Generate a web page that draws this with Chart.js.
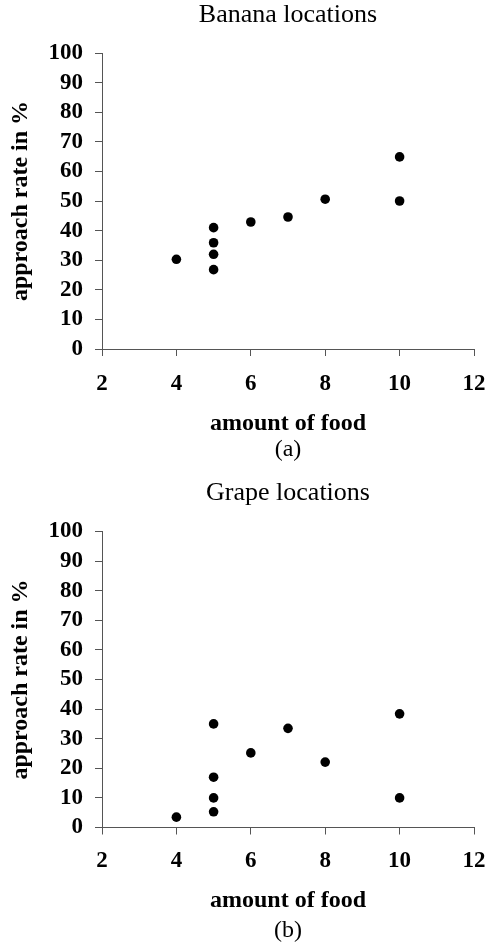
<!DOCTYPE html>
<html>
<head>
<meta charset="utf-8">
<script src="https://cdn.jsdelivr.net/npm/chart.js@4/dist/chart.umd.min.js"></script>
<style>
  html, body { margin: 0; padding: 0; background: #ffffff; }
  .box { position: relative; width: 486px; }
  #b1 { height: 470px; }
  #b2 { height: 479px; }
</style>
</head>
<body>
<div class="box" id="b1"><canvas id="c1"></canvas></div>
<div class="box" id="b2"><canvas id="c2"></canvas></div>
<script>
// ---- data ----
const bananaFood = [4, 5, 5, 5, 5, 6, 7, 8, 10, 10];
const bananaRate = [30.3, 41.0, 35.9, 32.0, 26.8, 42.9, 44.6, 50.6, 64.9, 50.0];
const grapeFood  = [4, 5, 5, 5, 5, 6, 7, 8, 10, 10];
const grapeRate  = [3.5, 35.0, 17.0, 10.0, 5.3, 25.2, 33.5, 22.1, 38.4, 10.0];
const xTicks = [2, 4, 6, 8, 10, 12];
const yTicks = [0, 10, 20, 30, 40, 50, 60, 70, 80, 90, 100];
const titles = ['Banana locations', 'Grape locations'];
const captions = ['(a)', '(b)'];
const xTitle = 'amount of food';
const yTitle = 'approach rate in %';

const SERIF = "'Liberation Serif', 'Times New Roman', serif";

function pts(xs, ys) { return xs.map((x, i) => ({ x: x, y: ys[i] })); }

function makeChart(id, xs, ys, title, caption, L) {
  return new Chart(document.getElementById(id), {
    type: 'scatter',
    data: { datasets: [{
      data: pts(xs, ys),
      backgroundColor: '#000000',
      borderColor: '#000000',
      pointRadius: 4.8,
      pointHoverRadius: 4.8,
      borderWidth: 0
    }]},
    options: {
      responsive: true,
      maintainAspectRatio: false,
      animation: false,
      events: [],
      layout: { padding: { left: 0, right: 0, top: 0, bottom: L.padBottom } },
      plugins: {
        legend: { display: false },
        tooltip: { enabled: false },
        title: {
          display: true, text: title, fullSize: false, color: '#000000',
          font: { family: SERIF, size: 26, weight: 'normal', lineHeight: 1 },
          padding: { top: L.titleTop, bottom: L.titleBottom }
        },
        subtitle: {
          display: true, text: caption, position: 'bottom', fullSize: false, color: '#000000',
          font: { family: SERIF, size: 24, weight: 'normal', lineHeight: 1 },
          padding: { top: L.capTop, bottom: 0 }
        }
      },
      scales: {
        x: {
          type: 'linear', min: xTicks[0], max: xTicks[xTicks.length - 1],
          afterBuildTicks: (s) => { s.ticks = xTicks.map(v => ({ value: v })); },
          afterFit: (s) => { s.height = L.xHeight; s.paddingRight = 12; s.paddingLeft = 0; },
          grid: { display: true, drawOnChartArea: false, drawTicks: true, tickLength: 7, tickColor: '#555555', tickWidth: 1 },
          border: { display: true, color: '#555555', width: 1 },
          ticks: { color: '#000000', padding: L.xTickPad, maxRotation: 0, autoSkip: false,
                   font: { family: SERIF, size: 23, weight: 'bold', lineHeight: 1 } },
          title: { display: true, text: xTitle, color: '#000000',
                   font: { family: SERIF, size: 24, weight: 'bold', lineHeight: 1 },
                   padding: { top: 0, bottom: 0 } }
        },
        y: {
          type: 'linear', min: yTicks[0], max: yTicks[yTicks.length - 1],
          afterBuildTicks: (s) => { s.ticks = yTicks.map(v => ({ value: v })); },
          afterFit: (s) => { s.width = 102; },
          grid: { display: true, drawOnChartArea: false, drawTicks: true, tickLength: 7, tickColor: '#555555', tickWidth: 1 },
          border: { display: true, color: '#555555', width: 1 },
          ticks: { color: '#000000', padding: 12,
                   font: { family: SERIF, size: 23, weight: 'bold', lineHeight: 1 } },
          title: { display: true, text: yTitle, color: '#000000',
                   font: { family: SERIF, size: 24, weight: 'bold', lineHeight: 1 },
                   padding: { top: 9, bottom: 0 } }
        }
      }
    }
  });
}

makeChart('c1', bananaFood, bananaRate, titles[0], captions[0],
  { titleTop: 2, titleBottom: 25, xHeight: 87, xTickPad: 16.5, capTop: 2, padBottom: 8 });
makeChart('c2', grapeFood, grapeRate, titles[1], captions[1],
  { titleTop: 10, titleBottom: 25.5, xHeight: 85.5, xTickPad: 15, capTop: 6, padBottom: 6 });
</script>
</body>
</html>
